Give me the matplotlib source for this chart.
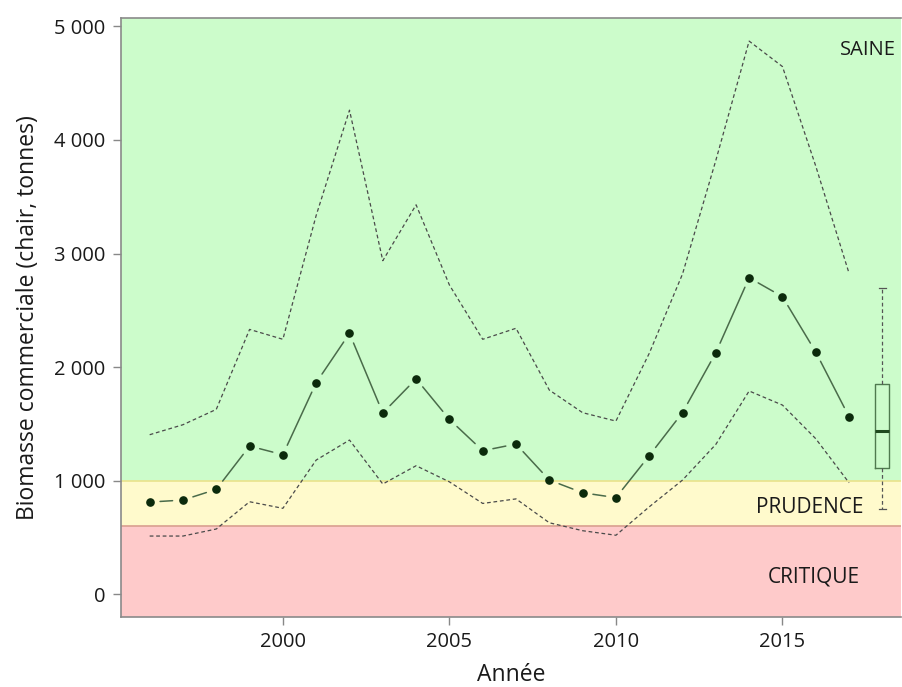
import numpy as np
import matplotlib.pyplot as plt
from matplotlib.ticker import FuncFormatter

plt.rcParams['font.family'] = ['Open Sans', 'DejaVu Sans']

# Biomasse commerciale estimée (chair, tonnes)
annees = np.arange(1996, 2018)
biomasse = [812, 830, 924, 1305, 1229, 1863, 2297, 1596, 1897, 1540, 1264,
            1323, 1006, 894, 851, 1220, 1600, 2127, 2787, 2620, 2133, 1563]
borne_sup = [1405, 1493, 1628, 2332, 2245, 3336, 4262, 2937, 3429, 2723, 2245,
             2342, 1798, 1599, 1525, 2121, 2820, 3820, 4870, 4646, 3770, 2826]
borne_inf = [513, 513, 575, 815, 757, 1182, 1358, 971, 1132, 990, 800,
             840, 630, 560, 520, 770, 1006, 1320, 1790, 1666, 1370, 982]

# Résumé de la série (boîte à moustaches)
boite_annee = 2018
boite_stats = dict(whislo=751, q1=1109, med=1437, q3=1849, whishi=2699)

# Zones d'état du stock
seuil_critique = 600
seuil_prudence = 1000
zones = ['SAINE', 'PRUDENCE', 'CRITIQUE']

fig = plt.figure(figsize=(9.02, 6.87), dpi=100)
ax = fig.add_axes([120.7 / 902, 70.3 / 687, 780.3 / 902, 599 / 687])

ymin, ymax = -197, 5076
ax.set_xlim(1995.13, 2018.56)
ax.set_ylim(ymin, ymax)

ax.axhspan(seuil_prudence, ymax, color='#ccfccb', zorder=0)
ax.axhspan(seuil_critique, seuil_prudence, color='#fffacc', zorder=0)
ax.axhspan(ymin, seuil_critique, color='#fecaca', zorder=0)
ax.axhline(seuil_prudence, color='#e9e28c', lw=1.2, zorder=1)
ax.axhline(seuil_critique, color='#d9a090', lw=1.2, zorder=1)

ax.plot(annees, borne_sup, color='#4a4a4a', lw=0.9, ls=(0, (3, 2.2)), zorder=2)
ax.plot(annees, borne_inf, color='#4a4a4a', lw=0.9, ls=(0, (3, 2.2)), zorder=2)

# ligne interrompue autour des points (segments raccourcis aux deux bouts)
for i in range(len(annees) - 1):
    ax.annotate('', xy=(annees[i + 1], biomasse[i + 1]),
                xytext=(annees[i], biomasse[i]),
                arrowprops=dict(arrowstyle='-', color='#4a6b4a', lw=1.1,
                                shrinkA=7.5, shrinkB=7.5,
                                patchA=None, patchB=None), zorder=3)
ax.plot(annees, biomasse, ls='none', marker='o', ms=5.2,
        color='#0b2a0b', zorder=4)

boite_stats['fliers'] = []
ax.bxp([boite_stats], positions=[boite_annee], widths=0.42, showfliers=False,
       boxprops=dict(color='#4f7a4f', lw=1.0),
       medianprops=dict(color='#1f4a1f', lw=2.2),
       whiskerprops=dict(color='#555555', lw=0.9, ls=(0, (3, 2.2))),
       capprops=dict(color='#555555', lw=0.9), capwidths=0.2,
       manage_ticks=False, zorder=3)

ax.text(2018.4, 4790, zones[0], ha='right', va='center', fontsize=14.5,
        color='#1a1a1a')
ax.text(2017.44, 765, zones[1], ha='right', va='center', fontsize=15,
        color='#1a1a1a')
ax.text(2017.32, 155, zones[2], ha='right', va='center', fontsize=15,
        color='#1a1a1a')

ax.set_xticks([2000, 2005, 2010, 2015])
ax.set_yticks([0, 1000, 2000, 3000, 4000, 5000])
ax.yaxis.set_major_formatter(FuncFormatter(lambda v, p: f'{int(v):,}'.replace(',', ' ')))
ax.tick_params(axis='both', direction='out', length=6, width=1, color='#888888',
               labelsize=14.5, labelcolor='#1a1a1a', pad=5)

for s in ['left', 'bottom', 'top']:
    ax.spines[s].set_color('#8a8a8a')
    ax.spines[s].set_linewidth(1.2)
ax.spines['right'].set_visible(False)

ax.set_xlabel('Année', fontsize=16.5, color='#1a1a1a', labelpad=8)
ax.set_ylabel('Biomasse commerciale (chair, tonnes)', fontsize=16.5,
              color='#1a1a1a', labelpad=10)

fig.savefig('out.png', dpi=100, facecolor='white')
